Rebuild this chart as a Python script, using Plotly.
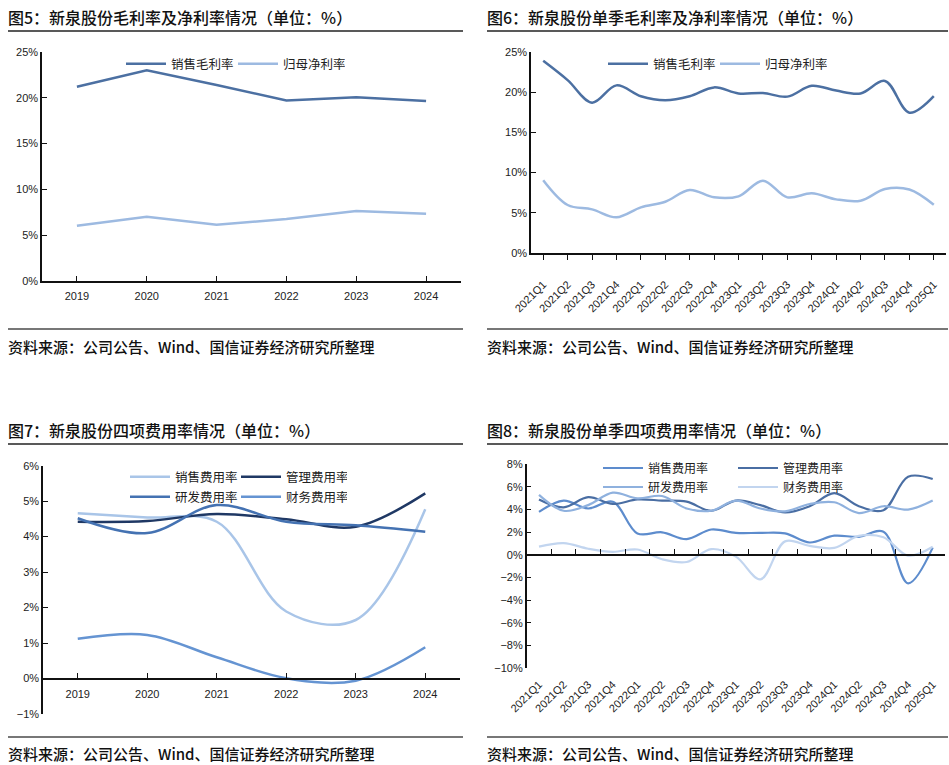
import plotly.graph_objects as go

# ---------------- data ----------------
years = ['2019', '2020', '2021', '2022', '2023', '2024']
gross_annual = [21.2, 23.0, 21.4, 19.7, 20.05, 19.65]
net_annual = [6.03, 7.0, 6.14, 6.76, 7.63, 7.34]

quarters = ['2021Q1', '2021Q2', '2021Q3', '2021Q4', '2022Q1', '2022Q2', '2022Q3', '2022Q4',
            '2023Q1', '2023Q2', '2023Q3', '2023Q4', '2024Q1', '2024Q2', '2024Q3', '2024Q4', '2025Q1']
gross_q = [23.9, 21.5, 18.7, 20.85, 19.5, 19.0, 19.5, 20.6, 19.85, 19.9, 19.45, 20.8, 20.2, 19.85, 21.4, 17.45, 19.5]
net_q = [9.05, 5.97, 5.43, 4.44, 5.68, 6.38, 7.84, 6.92, 7.05, 9.0, 6.92, 7.42, 6.67, 6.5, 7.96, 7.9, 6.0]

sales_a = [4.66, 4.54, 4.42, 1.89, 1.65, 4.77]
admin_a = [4.42, 4.44, 4.64, 4.49, 4.28, 5.22]
rd_a = [4.52, 4.10, 4.89, 4.42, 4.32, 4.14]
fin_a = [1.12, 1.23, 0.60, 0.01, -0.06, 0.88]

sales_q = [3.8, 4.8, 4.1, 4.7, 1.9, 2.0, 1.4, 2.25, 1.95, 1.95, 1.9, 1.1, 1.7, 1.6, 2.05, -2.5, 0.65]
admin_q = [4.9, 4.2, 5.1, 4.5, 4.9, 4.8, 4.7, 3.9, 4.8, 4.4, 3.75, 4.3, 5.45, 4.3, 3.95, 6.9, 6.7]
rd_q = [5.3, 3.9, 4.4, 5.5, 5.0, 5.2, 4.1, 3.9, 4.8, 4.1, 3.85, 4.5, 4.65, 3.7, 4.3, 4.0, 4.8]
fin_q = [0.74, 1.05, 0.55, 0.28, 0.48, -0.38, -0.62, 0.52, -0.15, -2.15, 1.2, 0.8, 0.62, 1.68, 1.56, -0.06, 0.72]

titles = ['图5：新泉股份毛利率及净利率情况（单位：%）',
          '图6：新泉股份单季毛利率及净利率情况（单位：%）',
          '图7：新泉股份四项费用率情况（单位：%）',
          '图8：新泉股份单季四项费用率情况（单位：%）']
source = '资料来源：公司公告、Wind、国信证券经济研究所整理'

# ---------------- layout helpers ----------------
W, H = 949, 765
def px(x):
    return x / W
def py(y):
    return 1 - y / H

CJK = 'Noto Sans CJK SC'
NUM = 'Liberation Sans, Noto Sans CJK SC'

c_dark = '#4c70a2'
c_light = '#9dbae1'
c7_sales = '#a9c5e8'
c7_admin = '#1f3864'
c7_rd = '#4472b2'
c7_fin = '#6594d2'
c8_sales = '#5d8ccd'
c8_admin = '#4a6ea3'
c8_rd = '#8fb1de'
c8_fin = '#c2d5ef'

fig = go.Figure()

def add(x, y, name, color, xa, ya, leg, spline, width=2.5):
    fig.add_trace(go.Scatter(
        x=x, y=y, name=name, mode='lines', xaxis=xa, yaxis=ya, legend=leg,
        line=dict(color=color, width=width, shape='spline' if spline else 'linear', smoothing=1.0),
        hoverinfo='skip'))

# chart 5
add(years, gross_annual, '销售毛利率', c_dark, 'x', 'y', 'legend', False)
add(years, net_annual, '归母净利率', c_light, 'x', 'y', 'legend', False)
# chart 6
add(quarters, gross_q, '销售毛利率', c_dark, 'x2', 'y2', 'legend2', True)
add(quarters, net_q, '归母净利率', c_light, 'x2', 'y2', 'legend2', True)
# chart 7
add(years, sales_a, '销售费用率', c7_sales, 'x3', 'y3', 'legend3', True)
add(years, admin_a, '管理费用率', c7_admin, 'x3', 'y3', 'legend3', True)
add(years, rd_a, '研发费用率', c7_rd, 'x3', 'y3', 'legend4', True)
add(years, fin_a, '财务费用率', c7_fin, 'x3', 'y3', 'legend4', True)
# chart 8
add(quarters, sales_q, '销售费用率', c8_sales, 'x4', 'y4', 'legend5', True, 2.2)
add(quarters, admin_q, '管理费用率', c8_admin, 'x4', 'y4', 'legend5', True, 2.2)
add(quarters, rd_q, '研发费用率', c8_rd, 'x4', 'y4', 'legend6', True, 2.2)
add(quarters, fin_q, '财务费用率', c8_fin, 'x4', 'y4', 'legend6', True, 2.2)

tickfont = dict(family=NUM, size=11, color='#222')
axline = dict(showline=True, linecolor='#111', linewidth=1.5, showgrid=False, zeroline=False,
              tickfont=tickfont, ticklen=5, tickcolor='#111', tickwidth=1.2, automargin=False)

# domains
d5x = [px(42), px(461)]; d5y = [py(281), py(52)]
d6x = [px(531), px(946)]; d6y = [py(253), py(52)]
d7x = [px(43), px(460)]; d7y = [py(714), py(465.7)]
d8x = [px(526.7), px(945)]; d8y = [py(668.3), py(464.3)]

r7 = [-1, 6]
r8 = [-10, 8]
zero7 = d7y[0] + (0 - r7[0]) / (r7[1] - r7[0]) * (d7y[1] - d7y[0])
zero8 = d8y[0] + (0 - r8[0]) / (r8[1] - r8[0]) * (d8y[1] - d8y[0])

fig.update_layout(
    template='none',
    width=W, height=H, margin=dict(l=0, r=0, t=0, b=0, autoexpand=False),
    paper_bgcolor='white', plot_bgcolor='rgba(0,0,0,0)',
    font=dict(family=CJK, color='#222'),
    xaxis=dict(domain=d5x, anchor='y', type='category', range=[-0.5, 5.5], ticks='inside',
               ticklabelstandoff=4, **axline),
    yaxis=dict(domain=d5y, anchor='x', range=[0, 25], dtick=5, ticksuffix='%', ticks='inside', **axline),
    xaxis2=dict(domain=d6x, anchor='y2', type='category', range=[-0.5, 16.5], ticks='outside',
                tickangle=-45, ticklabelstandoff=14, **axline),
    yaxis2=dict(domain=d6y, anchor='x2', range=[0, 25], dtick=5, ticksuffix='%', ticks='inside', **axline),
    xaxis3=dict(domain=d7x, anchor='free', position=zero7, type='category', range=[-0.5, 5.5],
                ticks='inside', ticklabelstandoff=6, **axline),
    yaxis3=dict(domain=d7y, anchor='x3', range=r7, dtick=1, ticksuffix='%',
                ticks='inside', **axline),
    xaxis4=dict(domain=d8x, anchor='free', position=zero8, type='category', range=[-0.5, 16.5],
                ticks='inside', tickson='boundaries', tickangle=-45, ticklabelstandoff=118, **axline),
    yaxis4=dict(domain=d8y, anchor='x4', range=r8, dtick=2, ticksuffix='%', ticks='inside', **axline),
)

def leg(xpx, ypx, ew, size=12.5):
    return dict(orientation='h', x=px(xpx), y=py(ypx), xanchor='left', yanchor='middle',
                entrywidth=ew, entrywidthmode='pixels', itemwidth=40,
                font=dict(family=CJK, size=size, color='#222'), bgcolor='rgba(0,0,0,0)',
                borderwidth=0, itemclick=False, itemdoubleclick=False)

fig.update_layout(
    legend=leg(121, 64, 57),
    legend2=leg(603, 64, 57),
    legend3=leg(125, 477, 56),
    legend4=leg(125, 497, 56),
    legend5=leg(598, 468, 80, 12),
    legend6=leg(598, 487, 80, 12),
)

# titles, rules, sources
shapes = []
annotations = []
panels = [(8, 463, 17, 31, 329, 347), (487, 948, 17, 31, 329, 347),
          (8, 463, 430, 444, 737, 753), (487, 948, 430, 444, 737, 753)]
for i, (x0, x1, ty, ry, sy, sty) in enumerate(panels):
    annotations.append(dict(text=titles[i], x=px(x0 - 2), y=py(ty), xref='paper', yref='paper',
                            xanchor='left', yanchor='middle', showarrow=False,
                            font=dict(family=CJK, size=16, color='#111', weight=500)))
    annotations.append(dict(text=source, x=px(x0 - 2), y=py(sty), xref='paper', yref='paper',
                            xanchor='left', yanchor='middle', showarrow=False,
                            font=dict(family=CJK, size=15, color='#111', weight=500)))
    shapes.append(dict(type='line', xref='paper', yref='paper', x0=px(x0), x1=px(x1),
                       y0=py(ry), y1=py(ry), line=dict(color='#222', width=1.5)))
    shapes.append(dict(type='line', xref='paper', yref='paper', x0=px(x0), x1=px(x1),
                       y0=py(sy), y1=py(sy), line=dict(color='#777', width=2)))
fig.update_layout(shapes=shapes, annotations=annotations)

fig.write_html('out.html', config={'displayModeBar': False},
               post_script="document.body.style.margin='0';")
